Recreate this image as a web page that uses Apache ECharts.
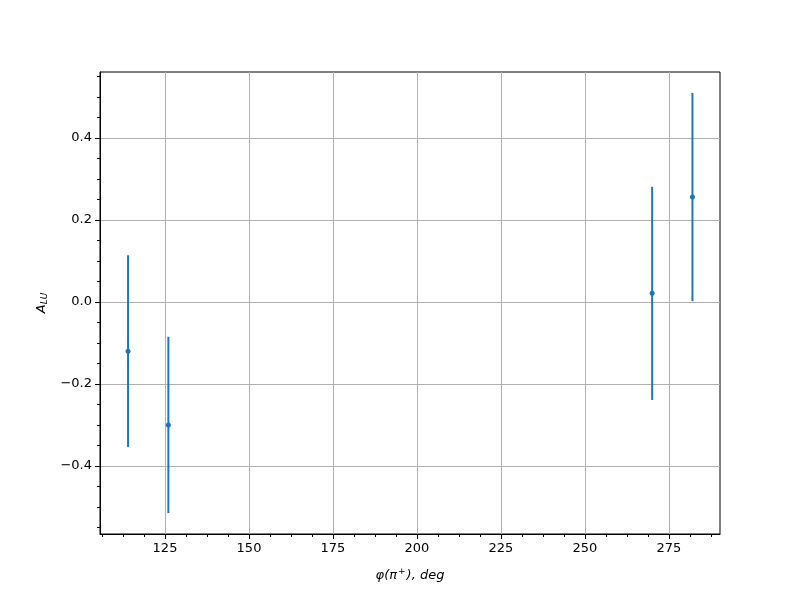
<!DOCTYPE html>
<html>
<head>
<meta charset="utf-8">
<script src="https://cdn.jsdelivr.net/npm/echarts@6/dist/echarts.min.js"></script>
<style>html,body{margin:0;padding:0;background:#fff}#c{width:800px;height:600px}</style>
</head>
<body>
<div id="c"></div>
<script>
const phi = [114, 126, 270, 282];
const alu = [-0.120, -0.300, 0.021, 0.256];
const aluErr = [0.234, 0.215, 0.260, 0.254];
const xTicks = [125, 150, 175, 200, 225, 250, 275];
const xMinor = [106.25, 112.5, 118.75, 131.25, 137.5, 143.75, 156.25, 162.5, 168.75, 181.25, 187.5, 193.75, 206.25, 212.5, 218.75, 231.25, 237.5, 243.75, 256.25, 262.5, 268.75, 281.25, 287.5];
const yTicks = [-0.4, -0.2, 0.0, 0.2, 0.4];
const yMinor = [-0.55, -0.5, -0.45, -0.35, -0.3, -0.25, -0.15, -0.1, -0.05, 0.05, 0.1, 0.15, 0.25, 0.3, 0.35, 0.45, 0.5, 0.55];
const xRange = [105.65, 290.2];
const yRange = [-0.566, 0.561];

const chart = echarts.init(document.getElementById('c'), null, {renderer: 'canvas'});
const font = 'DejaVu Sans';
const blue = '#1f77b4';
const fmtY = v => (Math.abs(v) < 1e-9 ? '0.0' : v.toFixed(1).replace('-', '\u2212'));

chart.setOption({
  animation: false,
  backgroundColor: '#fff',
  grid: {left: 100, right: 80, top: 72, bottom: 66, show: true, borderColor: '#000', borderWidth: 1, containLabel: false},
  xAxis: [{
    type: 'value', min: xRange[0], max: xRange[1], position: 'bottom',
    axisLine: {show: true, onZero: false, lineStyle: {color: '#000', width: 1}},
    axisTick: {show: true, inside: false, length: 5, customValues: xTicks, lineStyle: {color: '#000', width: 1}},
    axisLabel: {show: true, customValues: xTicks, color: '#000', fontFamily: font, fontSize: 13, margin: 8, formatter: v => String(v)},
    splitLine: {show: true, lineStyle: {color: '#b0b0b0', width: 1}},
    name: '{i|\u03c6(\u03c0}{sup|+}{i|), deg}',
    nameLocation: 'middle', nameGap: 33,
    nameTextStyle: {color: '#000', fontFamily: font, fontSize: 13,
      rich: {i: {fontStyle: 'italic', fontFamily: font, fontSize: 13, color: '#000'},
             sup: {fontStyle: 'italic', fontFamily: font, fontSize: 9, color: '#000', verticalAlign: 'top', padding: [0, 1, 8, 1]}}}
  }, {
    type: 'value', min: xRange[0], max: xRange[1], position: 'bottom',
    axisLine: {show: false, onZero: false},
    axisTick: {show: true, inside: false, length: 3, customValues: xMinor, lineStyle: {color: '#000', width: 1}},
    axisLabel: {show: false}, splitLine: {show: false}
  }],
  yAxis: [{
    type: 'value', min: yRange[0], max: yRange[1], position: 'left',
    axisLine: {show: true, onZero: false, lineStyle: {color: '#000', width: 1}},
    axisTick: {show: true, inside: false, length: 5, customValues: yTicks, lineStyle: {color: '#000', width: 1}},
    axisLabel: {show: true, customValues: yTicks, color: '#000', fontFamily: font, fontSize: 13, margin: 8, formatter: fmtY},
    splitLine: {show: true, lineStyle: {color: '#b0b0b0', width: 1}},
    name: '{i|A}{sub|LU}',
    nameLocation: 'middle', nameGap: 51,
    nameTextStyle: {color: '#000', fontFamily: font, fontSize: 13,
      rich: {i: {fontStyle: 'italic', fontFamily: font, fontSize: 13, color: '#000'},
             sub: {fontStyle: 'italic', fontFamily: font, fontSize: 9, color: '#000', verticalAlign: 'bottom', padding: [6, 0, 0, 0]}}}
  }, {
    type: 'value', min: yRange[0], max: yRange[1], position: 'left',
    axisLine: {show: false, onZero: false},
    axisTick: {show: true, inside: false, length: 3, customValues: yMinor, lineStyle: {color: '#000', width: 1}},
    axisLabel: {show: false}, splitLine: {show: false}
  }],
  series: [{
    type: 'custom',
    xAxisIndex: 0, yAxisIndex: 0,
    data: phi.map((x, i) => [x, alu[i], aluErr[i]]),
    renderItem: function (params, api) {
      const x = api.value(0), y = api.value(1), e = api.value(2);
      const p1 = api.coord([x, y - e]);
      const p2 = api.coord([x, y + e]);
      return {type: 'line', shape: {x1: p1[0], y1: p1[1], x2: p2[0], y2: p2[1]},
              style: {stroke: blue, lineWidth: 2}};
    },
    z: 2
  }, {
    type: 'scatter',
    xAxisIndex: 0, yAxisIndex: 0,
    data: phi.map((x, i) => [x, alu[i]]),
    symbol: 'circle', symbolSize: 5,
    itemStyle: {color: blue, opacity: 1},
    z: 3
  }]
});
</script>
</body>
</html>
